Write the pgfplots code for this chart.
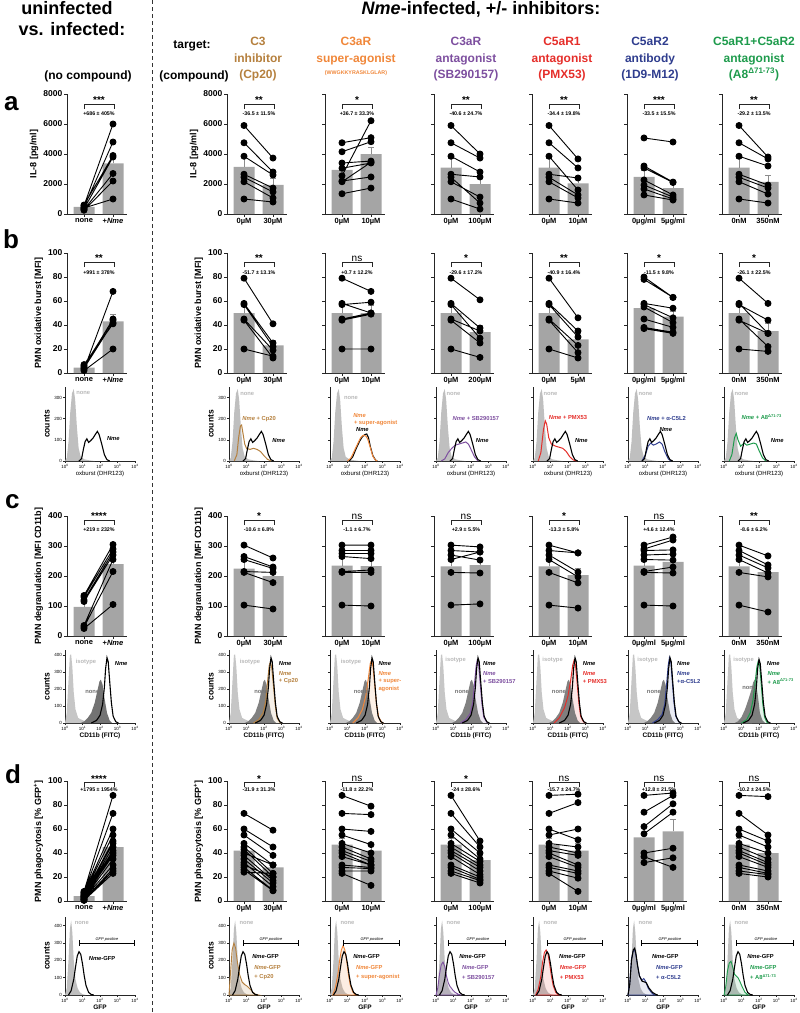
\documentclass[border=0pt]{standalone}
\usepackage{fontspec}
\setmainfont{Liberation Sans}
\usepackage{pgfplots}
\usepackage{pgfplotstable}
\pgfplotsset{compat=1.18}
\definecolor{cpc}{HTML}{B5803E}
\definecolor{spc}{HTML}{F0873A}
\definecolor{sbc}{HTML}{7D4F9F}
\definecolor{pmc}{HTML}{E52E2A}
\definecolor{csc}{HTML}{2F3D8E}
\definecolor{a8c}{HTML}{1E9B4C}
\definecolor{barg}{HTML}{A5A5A5}
\newcommand{\fs}[1]{\fontsize{#1}{#1}\selectfont}
\newcommand{\Nme}{\textit{Nme}}
\newcommand{\AEt}{A8\textsuperscript{Δ71-73}}
\newcommand{\brk}[5]{%
 \draw[line width=0.7pt, black!85] (rel axis cs:0.283,#2) -- (rel axis cs:0.283,#1) -- (rel axis cs:0.783,#1) -- (rel axis cs:0.783,#2);
 \node[anchor=south, inner sep=0pt, font=\bfseries\fs{10}] at (rel axis cs:0.533,#1) {#3};
 \node[inner sep=0pt, font=\bfseries\fs{5.3}] at (rel axis cs:0.533,#5) {#4};}
\newcommand{\brA}[2]{\brk{0.917}{0.875}{#1}{#2}{0.84}}
\newcommand{\brB}[2]{\brk{0.925}{0.883}{#1}{#2}{0.84}}
\newcommand{\brC}[2]{\brk{0.967}{0.925}{#1}{#2}{0.89}}
\newcommand{\brD}[2]{\brk{0.99}{0.95}{#1}{#2}{0.925}}
\newcommand{\ns}{{\mdseries ns}}
\newcommand{\hl}[4][]{\node[font=\bfseries\fs{5.8}, inner sep=0pt, #1] at (rel axis cs:#2,#3) {#4};}
\newcommand{\gfp}[1]{\draw[|-|, line width=0.6pt] (axis cs:#1,300) -- (axis cs:4,300); \node[font=\itshape\fs{4}, anchor=south, inner sep=1pt] at (axis cs:2.4,300) {GFP positive};}
% manual y ticks (no labels) for the inner panels
\newcommand{\tk}[1]{\draw[line width=0.8pt, black!85] (rel axis cs:0,#1) -- ++(-3pt,0pt);}
\newcommand{\htk}[1]{\draw[line width=0.6pt, black!85] (rel axis cs:0,#1) -- ++(-2pt,0pt);}
\newcommand{\tkFive}{\tk{0}\tk{0.25}\tk{0.5}\tk{0.75}\tk{1}}
\newcommand{\tkSix}{\tk{0}\tk{0.2}\tk{0.4}\tk{0.6}\tk{0.8}\tk{1}}
\newcommand{\tkHb}{\htk{0}\htk{0.2857}\htk{0.5714}\htk{0.8571}}
\newcommand{\tkHc}{\htk{0}\htk{0.2326}\htk{0.4651}\htk{0.6977}\htk{0.9302}}
\newcommand{\tkHd}{\htk{0}\htk{0.2222}\htk{0.4444}\htk{0.6667}\htk{0.8889}}

\pgfplotsset{
  base/.style={scale only axis, clip=false, anchor=south west, axis x line*=bottom, axis y line*=left,
    axis line style={line width=0.9pt, black!85, -},
    tick style={line width=0.8pt, black!85}, tick align=outside, major tick length=3pt,
    /pgf/number format/assume math mode=true, /pgf/number format/1000 sep={},
    ylabel style={font=\bfseries\fs{9}}},
  barax/.style={base, width=60pt, height=120pt, xmin=0, xmax=60, xtick={17,46},
    xticklabel style={font=\bfseries\fs{7.5}, inner sep=1pt}, yticklabel style={font=\bfseries\fs{8.5}, inner sep=1.5pt}},
  ra/.style={ymin=0, ymax=8000, ytick={0,2000,4000,6000,8000}},
  rb/.style={ymin=0, ymax=100, ytick={0,20,40,60,80,100}},
  rc/.style={ymin=0, ymax=400, ytick={0,100,200,300,400}},
  rd/.style={ymin=0, ymax=100, ytick={0,20,40,60,80,100}},
  histax/.style={base, width=70pt, xmin=0, xmax=4, ymin=0, xtick={0,1,2,3,4},
    xticklabels={10\textsuperscript{0},10\textsuperscript{1},10\textsuperscript{2},10\textsuperscript{3},10\textsuperscript{4}},
    tick label style={font=\fs{4.5}, inner sep=1pt}, major tick length=2pt,
    axis line style={line width=0.7pt}, tick style={line width=0.6pt}, ylabel style={font=\bfseries\fs{8.5}}},
  hb/.style={histax, height=74pt, ymax=350, ytick={0,100,200,300}, xlabel={oxburst (DHR123)}, xlabel style={font=\fs{6}, inner sep=1pt}},
  hc/.style={histax, height=73pt, ymax=430, ytick={0,100,200,300,400}, xlabel={CD11b (FITC)}, xlabel style={font=\bfseries\fs{6.5}, inner sep=1pt}},
  hd/.style={histax, height=78pt, ymax=450, ytick={0,100,200,300,400}, xlabel={GFP}, xlabel style={font=\bfseries\fs{6.5}, inner sep=1pt}},
  pts/.style={black, line width=0.9pt, mark=*, mark size=3pt, unbounded coords=jump},
  bars/.style={ybar, bar width=21, fill=barg, draw=none, error bars/.cd, y dir=plus, y explicit,
    error bar style={line width=0.7pt, black!45}, error mark options={rotate=90, mark size=3pt, line width=0.7pt, black!45}},
}

% ---------- histogram tables ----------
\pgfplotstableread{
x y
0 0
0.1 15
0.2 90
0.3 230
0.4 320
0.5 340
0.58 290
0.68 160
0.78 60
0.9 20
1.1 8
1.4 3
1.7 0
}\bNone
\pgfplotstableread{
x y
0.8 0
0.95 12
1.05 55
1.15 92
1.25 105
1.35 88
1.45 95
1.6 108
1.75 128
1.85 140
1.95 125
2.1 80
2.25 30
2.4 6
2.55 0
}\bNme
\pgfplotstableread{
x y
1.1 0
1.3 20
1.5 60
1.7 95
1.85 115
2.0 125
2.1 128
2.2 110
2.3 70
2.45 25
2.6 5
2.7 0
}\bNmeS
\pgfplotstableread{
x y
0 0
0.1 60
0.2 250
0.28 400
0.35 405
0.42 330
0.5 180
0.6 80
0.75 30
0.9 22
1.05 15
1.3 5
1.6 0
}\cIso
\pgfplotstableread{
x y
0.9 0
1.1 10
1.3 30
1.5 60
1.7 120
1.85 190
1.97 245
2.05 255
2.15 225
2.25 150
2.4 60
2.55 15
2.7 0
}\cNone
\pgfplotstableread{
x y
0.6 0
0.8 10
1.0 35
1.2 80
1.4 140
1.55 190
1.67 240
1.75 255
1.85 220
1.95 150
2.05 60
2.2 15
2.35 0
}\cNoneG
\pgfplotstableread{
x y
1.5 0
1.8 15
2.0 45
2.15 110
2.25 210
2.32 320
2.4 385
2.47 360
2.55 250
2.65 120
2.75 40
2.9 8
3.05 0
}\cNme
\pgfplotstableread{
x y
1.1 0
1.4 15
1.6 45
1.75 110
1.85 210
1.92 320
2.0 375
2.07 350
2.15 250
2.25 120
2.35 40
2.5 8
2.65 0
}\cNmeG
\pgfplotstableread{
x y
0 0
0.1 40
0.2 200
0.28 380
0.35 430
0.42 360
0.5 200
0.6 90
0.72 40
0.85 15
1.0 5
1.2 0
}\dNone
\pgfplotstableread{
x y
0.2 0
0.35 25
0.5 90
0.6 160
0.7 225
0.8 250
0.9 235
1.0 180
1.1 110
1.2 55
1.35 15
1.5 3
1.65 0
}\dNme
\pgfplotstableread{
x y
0 0
0.1 60
0.2 200
0.3 260
0.38 270
0.45 240
0.55 170
0.65 110
0.8 80
0.95 75
1.05 70
1.2 40
1.4 15
1.6 3
1.7 0
}\dNmeL

\begin{document}
\begin{tikzpicture}
\path[use as bounding box] (0pt,0pt) rectangle (800pt,-1013pt);
\draw[black!80, line width=0.8pt, dash pattern=on 4pt off 3pt] (152pt,0pt) -- (152pt,-1013pt);

% ---------- headers ----------
\node[font=\bfseries\fs{18}, anchor=base] at (67pt,-14pt) {uninfected};
\node[font=\bfseries\fs{18}, anchor=base] at (72pt,-35pt) {vs. infected:};
\node[font=\bfseries\fs{18}, anchor=base] at (481pt,-14pt) {\Nme-infected, +/- inhibitors:};
\node[font=\bfseries\fs{12}, anchor=base] at (192pt,-48pt) {target:};
\node[font=\bfseries\fs{12}, anchor=base] at (194pt,-79pt) {(compound)};
\node[font=\bfseries\fs{12}, anchor=base] at (88pt,-79pt) {(no compound)};
\begin{scope}[every node/.style={font=\bfseries\fs{12}, anchor=base}]
\node[cpc] at (258pt,-45pt) {C3}; \node[cpc] at (258pt,-62pt) {inhibitor}; \node[cpc] at (258pt,-78pt) {(Cp20)};
\node[spc] at (356pt,-45pt) {C3aR}; \node[spc] at (356pt,-62pt) {super-agonist}; \node[spc, font=\bfseries\fs{5.3}] at (356pt,-74pt) {(WWGKKYRASKLGLAR)};
\node[sbc] at (466pt,-45pt) {C3aR}; \node[sbc] at (466pt,-62pt) {antagonist}; \node[sbc] at (466pt,-78pt) {(SB290157)};
\node[pmc] at (562pt,-45pt) {C5aR1}; \node[pmc] at (562pt,-62pt) {antagonist}; \node[pmc] at (562pt,-78pt) {(PMX53)};
\node[csc] at (650pt,-45pt) {C5aR2}; \node[csc] at (650pt,-62pt) {antibody}; \node[csc] at (650pt,-78pt) {(1D9-M12)};
\node[a8c] at (754pt,-45pt) {C5aR1+C5aR2}; \node[a8c] at (754pt,-62pt) {antagonist}; \node[a8c] at (754pt,-78pt) {(\AEt)};
\end{scope}
\node[font=\bfseries\fs{26}, anchor=base west, inner sep=0pt] at (4pt,-110pt) {a};
\node[font=\bfseries\fs{26}, anchor=base west, inner sep=0pt] at (3pt,-248pt) {b};
\node[font=\bfseries\fs{26}, anchor=base west, inner sep=0pt] at (5pt,-508pt) {c};
\node[font=\bfseries\fs{26}, anchor=base west, inner sep=0pt] at (5pt,-783pt) {d};

% ================= ROW A =================
\begin{axis}[barax,ra,at={(67pt,-214pt)},xticklabels={none,+\Nme},ylabel={IL-8 [pg/ml]}]
\addplot[bars] coordinates {(17,480)+-(0,60) (46,3380)+-(0,620)};
\addplot[pts] coordinates {(17,550)(46,6000)(17,nan)(17,450)(46,4800)(17,nan)(17,600)(46,3900)(17,nan)(17,350)(46,3800)(17,nan)(17,300)(46,2700)(17,nan)(17,250)(46,2200)(17,nan)(17,400)(46,1000)};
\brA{***}{+686 ± 405\%}
\end{axis}
\begin{axis}[barax,ra,at={(227pt,-214pt)},xticklabels={0µM,30µM},ylabel={IL-8 [pg/ml]}]
\addplot[bars] coordinates {(17,3150)+-(0,600) (46,1950)+-(0,430)};
\addplot[pts] coordinates {(17,5900)(46,3730)(17,nan)(17,4750)(46,2800)(17,nan)(17,3850)(46,2600)(17,nan)(17,2650)(46,1730)(17,nan)(17,2450)(46,1470)(17,nan)(17,2150)(46,1070)(17,nan)(17,1000)(46,800)};
\brA{**}{-36.5 ± 11.5\%}
\end{axis}
\begin{axis}[barax,ra,ymajorticks=false,at={(325pt,-214pt)},xticklabels={0µM,10µM}]
\addplot[bars] coordinates {(17,2950)+-(0,450) (46,4000)+-(0,470)};
\addplot[pts] coordinates {(17,4750)(46,5090)(17,nan)(17,4150)(46,4820)(17,nan)(17,3400)(46,3530)(17,nan)(17,3050)(46,3400)(17,nan)(17,2550)(46,6220)(17,nan)(17,2200)(46,2470)(17,nan)(17,2150)(46,3450)(17,nan)(17,1350)(46,1730)};
\brA{*}{+36.7 ± 33.3\%}
\tkFive
\end{axis}
\begin{axis}[barax,ra,ymajorticks=false,at={(434pt,-214pt)},xticklabels={0µM,100µM}]
\addplot[bars] coordinates {(17,3100)+-(0,600) (46,2000)+-(0,470)};
\addplot[pts] coordinates {(17,5900)(46,4000)(17,nan)(17,4750)(46,3730)(17,nan)(17,3850)(46,2800)(17,nan)(17,2650)(46,2470)(17,nan)(17,2450)(46,730)(17,nan)(17,2150)(46,1130)(17,nan)(17,1000)(46,330)};
\brA{**}{-40.6 ± 24.7\%}
\tkFive
\end{axis}
\begin{axis}[barax,ra,ymajorticks=false,at={(532pt,-214pt)},xticklabels={0µM,10µM}]
\addplot[bars] coordinates {(17,3100)+-(0,600) (46,2050)+-(0,400)};
\addplot[pts] coordinates {(17,5900)(46,3670)(17,nan)(17,4750)(46,3070)(17,nan)(17,3850)(46,1600)(17,nan)(17,2650)(46,2400)(17,nan)(17,2450)(46,1270)(17,nan)(17,2150)(46,1070)(17,nan)(17,1000)(46,730)};
\brA{**}{-34.4 ± 19.8\%}
\tkFive
\end{axis}
\begin{axis}[barax,ra,ymajorticks=false,at={(627pt,-214pt)},xticklabels={0µg/ml,5µg/ml}]
\addplot[bars] coordinates {(17,2470)+-(0,460) (46,1730)+-(0,400)};
\addplot[pts] coordinates {(17,5070)(46,4800)(17,nan)(17,3200)(46,2130)(17,nan)(17,3070)(46,2100)(17,nan)(17,2270)(46,1270)(17,nan)(17,1930)(46,1130)(17,nan)(17,1670)(46,1000)(17,nan)(17,1270)(46,930)};
\brA{***}{-33.5 ± 15.5\%}
\tkFive
\end{axis}
\begin{axis}[barax,ra,ymajorticks=false,at={(722pt,-214pt)},xticklabels={0nM,350nM}]
\addplot[bars] coordinates {(17,3100)+-(0,600) (46,2150)+-(0,450)};
\addplot[pts] coordinates {(17,5900)(46,3800)(17,nan)(17,4750)(46,3670)(17,nan)(17,3850)(46,3200)(17,nan)(17,2650)(46,1930)(17,nan)(17,2450)(46,1730)(17,nan)(17,2150)(46,1330)(17,nan)(17,1000)(46,730)};
\brA{**}{-29.2 ± 13.5\%}
\tkFive
\end{axis}

% ================= ROW B =================
\begin{axis}[barax,rb,at={(67pt,-373pt)},xticklabels={none,+\Nme},ylabel={PMN oxidative burst [MFI]}]
\addplot[bars] coordinates {(17,4.5)+-(0,1) (46,43)+-(0,6)};
\addplot[pts] coordinates {(17,3)(46,68)(17,nan)(17,5)(46,45)(17,nan)(17,6)(46,44)(17,nan)(17,4)(46,42)(17,nan)(17,7)(46,41)(17,nan)(17,2)(46,20)};
\brB{**}{+991 ± 378\%}
\end{axis}
\begin{axis}[barax,rb,at={(227pt,-373pt)},xticklabels={0µM,30µM},ylabel={PMN oxidative burst [MFI]}]
\addplot[bars] coordinates {(17,50)+-(0,7) (46,23)+-(0,4)};
\addplot[pts] coordinates {(17,79)(46,41)(17,nan)(17,58)(46,25)(17,nan)(17,57)(46,22)(17,nan)(17,45)(46,19)(17,nan)(17,44)(46,12.5)(17,nan)(17,20)(46,14)};
\brB{**}{-51.7 ± 13.1\%}
\end{axis}
\begin{axis}[barax,rb,ymajorticks=false,at={(325pt,-373pt)},xticklabels={0µM,10µM}]
\addplot[bars] coordinates {(17,50)+-(0,7) (46,50)+-(0,6)};
\addplot[pts] coordinates {(17,79)(46,68)(17,nan)(17,58)(46,50)(17,nan)(17,57)(46,59)(17,nan)(17,45)(46,50)(17,nan)(17,44)(46,49)(17,nan)(17,20)(46,20)};
\brB{\ns}{+0.7 ± 12.2\%}
\tkSix
\end{axis}
\begin{axis}[barax,rb,ymajorticks=false,at={(434pt,-373pt)},xticklabels={0µM,200µM}]
\addplot[bars] coordinates {(17,50)+-(0,7) (46,34)+-(0,6)};
\addplot[pts] coordinates {(17,79)(46,61)(17,nan)(17,58)(46,37.5)(17,nan)(17,57)(46,29)(17,nan)(17,45)(46,35)(17,nan)(17,44)(46,25)(17,nan)(17,20)(46,13)};
\brB{*}{-29.6 ± 17.2\%}
\tkSix
\end{axis}
\begin{axis}[barax,rb,ymajorticks=false,at={(532pt,-373pt)},xticklabels={0µM,5µM}]
\addplot[bars] coordinates {(17,50)+-(0,7) (46,28)+-(0,5)};
\addplot[pts] coordinates {(17,79)(46,46)(17,nan)(17,58)(46,35)(17,nan)(17,57)(46,30)(17,nan)(17,45)(46,23)(17,nan)(17,44)(46,17)(17,nan)(17,20)(46,12.5)};
\brB{**}{-40.9 ± 16.4\%}
\tkSix
\end{axis}
\begin{axis}[barax,rb,ymajorticks=false,at={(627pt,-373pt)},xticklabels={0µg/ml,5µg/ml}]
\addplot[bars] coordinates {(17,54)+-(0,5) (46,47)+-(0,4)};
\addplot[pts] coordinates {(17,80)(46,63)(17,nan)(17,78)(46,63)(17,nan)(17,58)(46,54)(17,nan)(17,57)(46,46)(17,nan)(17,55)(46,42)(17,nan)(17,45)(46,38)(17,nan)(17,38)(46,34)(17,nan)(17,37)(46,33)};
\brB{*}{-11.5 ± 9.8\%}
\tkSix
\end{axis}
\begin{axis}[barax,rb,ymajorticks=false,at={(722pt,-373pt)},xticklabels={0nM,350nM}]
\addplot[bars] coordinates {(17,50)+-(0,7) (46,35)+-(0,6)};
\addplot[pts] coordinates {(17,79)(46,58)(17,nan)(17,58)(46,33)(17,nan)(17,57)(46,44)(17,nan)(17,45)(46,22)(17,nan)(17,44)(46,33)(17,nan)(17,20)(46,18)};
\brB{*}{-26.1 ± 22.5\%}
\tkSix
\end{axis}

% ---------- ROW B histograms ----------
\begin{axis}[hb,at={(65pt,-461pt)},ylabel={counts}]
\addplot[fill=gray!50, draw=none] table {\bNone} \closedcycle;
\addplot[black, line width=1.1pt] table {\bNme};
\hl[gray!55]{0.26}{0.92}{none} \hl{0.69}{0.3}{\Nme}
\end{axis}
\begin{axis}[hb,at={(229pt,-461pt)},ylabel={counts}]
\addplot[fill=gray!50, draw=none] table {\bNone} \closedcycle;
\addplot[cpc, line width=1pt] coordinates {(0.3,0)(0.45,30)(0.55,110)(0.65,165)(0.72,170)(0.8,130)(0.9,80)(1.0,60)(1.2,55)(1.4,60)(1.6,55)(1.8,45)(2.0,25)(2.2,8)(2.4,0)};
\addplot[black, line width=1.1pt] table {\bNme};
\hl[gray!55]{0.26}{0.9}{none} \hl[cpc]{0.43}{0.57}{\Nme\ + Cp20} \hl{0.71}{0.27}{\Nme}
\end{axis}
\begin{axis}[hb,ymajorticks=false,at={(330pt,-461pt)}]
\addplot[fill=gray!50, draw=none] table {\bNone} \closedcycle;
\addplot[black, line width=1.1pt] table {\bNmeS};
\addplot[spc, line width=1pt] coordinates {(1.0,0)(1.2,15)(1.4,50)(1.6,85)(1.75,110)(1.9,122)(2.05,118)(2.15,105)(2.3,65)(2.45,22)(2.6,4)(2.7,0)};
\hl[gray!55]{0.3}{0.85}{none} \hl[spc,anchor=west]{0.33}{0.62}{\Nme} \hl[spc,anchor=west]{0.34}{0.51}{+ super-agonist} \hl[anchor=west]{0.37}{0.42}{\Nme}
\tkHb
\end{axis}
\begin{axis}[hb,ymajorticks=false,at={(436pt,-461pt)}]
\addplot[fill=gray!50, draw=none] table {\bNone} \closedcycle;
\addplot[sbc, line width=1pt] coordinates {(0.3,0)(0.5,10)(0.7,40)(0.9,60)(1.1,75)(1.3,80)(1.5,85)(1.7,90)(1.85,80)(2.0,55)(2.2,20)(2.4,0)};
\addplot[black, line width=1.1pt] table {\bNme};
\hl[gray!55]{0.25}{0.9}{none} \hl[sbc]{0.57}{0.57}{\Nme\ + SB290157} \hl{0.66}{0.27}{\Nme}
\tkHb
\end{axis}
\begin{axis}[hb,ymajorticks=false,at={(533pt,-461pt)}]
\addplot[fill=gray!50, draw=none] table {\bNone} \closedcycle;
\addplot[pmc, line width=1pt] coordinates {(0.3,0)(0.45,40)(0.6,150)(0.7,190)(0.78,175)(0.9,110)(1.05,80)(1.3,70)(1.5,65)(1.7,60)(1.9,45)(2.1,20)(2.3,5)(2.5,0)};
\addplot[black, line width=1.1pt] table {\bNme};
\hl[gray!55]{0.25}{0.9}{none} \hl[pmc]{0.5}{0.59}{\Nme\ + PMX53} \hl{0.69}{0.27}{\Nme}
\tkHb
\end{axis}
\begin{axis}[hb,ymajorticks=false,at={(628pt,-461pt)}]
\addplot[fill=gray!50, draw=none] table {\bNone} \closedcycle;
\addplot[csc, line width=1pt] coordinates {(0.8,0)(1.0,30)(1.15,70)(1.3,85)(1.45,75)(1.6,80)(1.8,90)(1.95,80)(2.1,45)(2.3,10)(2.45,0)};
\addplot[black, line width=1.1pt] table {\bNme};
\hl[gray!55]{0.25}{0.9}{none} \hl[csc]{0.55}{0.57}{\Nme\ + α-C5L2} \hl{0.54}{0.43}{\Nme}
\tkHb
\end{axis}
\begin{axis}[hb,ymajorticks=false,at={(724pt,-461pt)}]
\addplot[fill=gray!50, draw=none] table {\bNone} \closedcycle;
\addplot[a8c, line width=1pt] coordinates {(0.3,0)(0.45,30)(0.6,110)(0.7,130)(0.8,100)(0.95,70)(1.15,85)(1.3,75)(1.5,80)(1.7,85)(1.85,80)(2.0,50)(2.2,15)(2.4,0)};
\addplot[black, line width=1.1pt] table {\bNme};
\hl[gray!55]{0.25}{0.9}{none} \hl[a8c]{0.54}{0.59}{\Nme\ + \AEt} \hl{0.76}{0.27}{\Nme}
\tkHb
\end{axis}

% ================= ROW C =================
\begin{axis}[barax,rc,at={(67pt,-636pt)},xticklabels={none,+\Nme},ylabel={PMN degranulation [MFI CD11b]}]
\addplot[bars] coordinates {(17,97)+-(0,20) (46,240)+-(0,25)};
\addplot[pts] coordinates {(17,135)(46,305)(17,nan)(17,130)(46,290)(17,nan)(17,120)(46,280)(17,nan)(17,115)(46,270)(17,nan)(17,35)(46,255)(17,nan)(17,30)(46,215)(17,nan)(17,25)(46,105)};
\brC{****}{+219 ± 232\%}
\end{axis}
\begin{axis}[barax,rc,at={(227pt,-636pt)},xticklabels={0µM,30µM},ylabel={PMN degranulation [MFI CD11b]}]
\addplot[bars] coordinates {(17,225)+-(0,25) (46,200)+-(0,13)};
\addplot[pts] coordinates {(17,303)(46,260)(17,nan)(17,265)(46,230)(17,nan)(17,255)(46,225)(17,nan)(17,215)(46,212)(17,nan)(17,212)(46,178)(17,nan)(17,103)(46,90)};
\brC{*}{-10.6 ± 6.8\%}
\end{axis}
\begin{axis}[barax,rc,ymajorticks=false,at={(325pt,-636pt)},xticklabels={0µM,10µM}]
\addplot[bars] coordinates {(17,235)+-(0,25) (46,233)+-(0,25)};
\addplot[pts] coordinates {(17,303)(46,303)(17,nan)(17,285)(46,285)(17,nan)(17,275)(46,275)(17,nan)(17,265)(46,258)(17,nan)(17,215)(46,220)(17,nan)(17,212)(46,212)(17,nan)(17,103)(46,100)};
\brC{\ns}{-1.1 ± 6.7\%}
\tkFive
\end{axis}
\begin{axis}[barax,rc,ymajorticks=false,at={(434pt,-636pt)},xticklabels={0µM,100µM}]
\addplot[bars] coordinates {(17,232)+-(0,25) (46,236)+-(0,22)};
\addplot[pts] coordinates {(17,303)(46,297)(17,nan)(17,285)(46,280)(17,nan)(17,270)(46,253)(17,nan)(17,255)(46,280)(17,nan)(17,212)(46,210)(17,nan)(17,103)(46,107)};
\brC{\ns}{+2.9 ± 5.5\%}
\tkFive
\end{axis}
\begin{axis}[barax,rc,ymajorticks=false,at={(532pt,-636pt)},xticklabels={0µM,10µM}]
\addplot[bars] coordinates {(17,232)+-(0,25) (46,203)+-(0,22)};
\addplot[pts] coordinates {(17,303)(46,277)(17,nan)(17,285)(46,277)(17,nan)(17,270)(46,213)(17,nan)(17,255)(46,197)(17,nan)(17,212)(46,177)(17,nan)(17,103)(46,93)};
\brC{*}{-13.3 ± 5.8\%}
\tkFive
\end{axis}
\begin{axis}[barax,rc,ymajorticks=false,at={(627pt,-636pt)},xticklabels={0µg/ml,5µg/ml}]
\addplot[bars] coordinates {(17,235)+-(0,25) (46,247)+-(0,26)};
\addplot[pts] coordinates {(17,303)(46,330)(17,nan)(17,290)(46,320)(17,nan)(17,285)(46,287)(17,nan)(17,270)(46,273)(17,nan)(17,255)(46,253)(17,nan)(17,215)(46,230)(17,nan)(17,212)(46,210)(17,nan)(17,103)(46,100)};
\brC{\ns}{+4.6 ± 12.4\%}
\tkFive
\end{axis}
\begin{axis}[barax,rc,ymajorticks=false,at={(722pt,-636pt)},xticklabels={0nM,350nM}]
\addplot[bars] coordinates {(17,232)+-(0,25) (46,213)+-(0,20)};
\addplot[pts] coordinates {(17,303)(46,267)(17,nan)(17,285)(46,237)(17,nan)(17,270)(46,227)(17,nan)(17,255)(46,210)(17,nan)(17,212)(46,197)(17,nan)(17,103)(46,80)};
\brC{**}{-8.6 ± 6.2\%}
\tkFive
\end{axis}

% ---------- ROW C histograms ----------
\begin{axis}[hc,at={(65pt,-723pt)},ylabel={counts}]
\addplot[fill=gray!45, draw=none] table {\cIso} \closedcycle;
\addplot[fill=black!55, draw=none] table {\cNone} \closedcycle;
\addplot[black, line width=1.1pt] table {\cNme};
\hl[gray!55]{0.3}{0.84}{isotype} \hl[black!55]{0.39}{0.42}{none} \hl[anchor=west]{0.71}{0.81}{\Nme}
\end{axis}
\begin{axis}[hc,at={(229pt,-723pt)},ylabel={counts}]
\addplot[fill=gray!45, draw=none] table {\cIso} \closedcycle;
\addplot[draw=none, fill=cpc!12] coordinates {(1.4,0)(1.7,20)(1.95,60)(2.1,130)(2.2,240)(2.3,340)(2.37,360)(2.45,320)(2.55,210)(2.65,100)(2.75,30)(2.9,5)(3.0,0)} \closedcycle;
\addplot[fill=black!55, fill opacity=0.9, draw=none] table {\cNone} \closedcycle;
\addplot[cpc, line width=1pt] coordinates {(1.4,0)(1.7,20)(1.95,60)(2.1,130)(2.2,240)(2.3,340)(2.37,360)(2.45,320)(2.55,210)(2.65,100)(2.75,30)(2.9,5)(3.0,0)};
\addplot[black, line width=1.1pt] table {\cNme};
\hl[gray!55]{0.3}{0.84}{isotype} \hl[black!55]{0.46}{0.42}{none} \hl[anchor=west]{0.71}{0.81}{\Nme}
\hl[cpc,anchor=west]{0.71}{0.68}{\Nme} \hl[cpc,anchor=west]{0.71}{0.57}{+ Cp20}
\end{axis}
\begin{axis}[hc,ymajorticks=false,at={(330pt,-723pt)}]
\addplot[fill=gray!45, draw=none] table {\cIso} \closedcycle;
\addplot[draw=none, fill=spc!12] coordinates {(1.3,0)(1.6,30)(1.85,80)(2.05,160)(2.2,270)(2.3,350)(2.38,370)(2.46,330)(2.56,220)(2.66,110)(2.78,35)(2.95,5)(3.05,0)} \closedcycle;
\addplot[fill=black!55, fill opacity=0.9, draw=none] table {\cNone} \closedcycle;
\addplot[spc, line width=1pt] coordinates {(1.3,0)(1.6,30)(1.85,80)(2.05,160)(2.2,270)(2.3,350)(2.38,370)(2.46,330)(2.56,220)(2.66,110)(2.78,35)(2.95,5)(3.05,0)};
\addplot[black, line width=1.1pt] table {\cNme};
\hl[gray!55]{0.3}{0.84}{isotype} \hl[black!55]{0.44}{0.42}{none} \hl[anchor=west]{0.69}{0.81}{\Nme}
\hl[spc,anchor=west]{0.69}{0.68}{\Nme} \hl[spc,anchor=west]{0.69}{0.57}{+ super-} \hl[spc,anchor=west]{0.69}{0.46}{agonist}
\tkHc
\end{axis}
\begin{axis}[hc,ymajorticks=false,at={(436pt,-723pt)}]
\addplot[fill=gray!45, draw=none] table {\cIso} \closedcycle;
\addplot[draw=none, fill=sbc!12] coordinates {(1.4,0)(1.7,20)(1.95,55)(2.1,120)(2.2,230)(2.3,340)(2.36,370)(2.44,340)(2.53,230)(2.63,110)(2.73,35)(2.9,5)(3.0,0)} \closedcycle;
\addplot[fill=black!55, fill opacity=0.9, draw=none] table {\cNone} \closedcycle;
\addplot[sbc, line width=1pt] coordinates {(1.4,0)(1.7,20)(1.95,55)(2.1,120)(2.2,230)(2.3,340)(2.36,370)(2.44,340)(2.53,230)(2.63,110)(2.73,35)(2.9,5)(3.0,0)};
\addplot[black, line width=1.1pt] table {\cNme};
\hl[gray!55]{0.28}{0.86}{isotype} \hl[black!55]{0.37}{0.42}{none} \hl[anchor=west]{0.67}{0.81}{\Nme}
\hl[sbc,anchor=west]{0.67}{0.68}{\Nme} \hl[sbc,anchor=west]{0.67}{0.57}{+ SB290157}
\tkHc
\end{axis}
\begin{axis}[hc,ymajorticks=false,at={(533pt,-723pt)}]
\addplot[fill=gray!45, draw=none] table {\cIso} \closedcycle;
\addplot[draw=none, fill=pmc!12] coordinates {(1.2,0)(1.5,30)(1.8,90)(2.0,160)(2.15,250)(2.27,340)(2.35,370)(2.43,340)(2.52,240)(2.62,120)(2.72,40)(2.88,8)(3.0,0)} \closedcycle;
\addplot[fill=black!55, fill opacity=0.9, draw=none] table {\cNone} \closedcycle;
\addplot[pmc, line width=1pt] coordinates {(1.2,0)(1.5,30)(1.8,90)(2.0,160)(2.15,250)(2.27,340)(2.35,370)(2.43,340)(2.52,240)(2.62,120)(2.72,40)(2.88,8)(3.0,0)};
\addplot[black, line width=1.1pt] table {\cNme};
\hl[gray!55]{0.28}{0.86}{isotype} \hl[black!55]{0.37}{0.42}{none} \hl[anchor=west]{0.71}{0.81}{\Nme}
\hl[pmc,anchor=west]{0.71}{0.68}{\Nme} \hl[pmc,anchor=west]{0.71}{0.57}{+ PMX53}
\tkHc
\end{axis}
\begin{axis}[hc,ymajorticks=false,at={(628pt,-723pt)}]
\addplot[fill=gray!45, draw=none] table {\cIso} \closedcycle;
\addplot[draw=none, fill=csc!10] coordinates {(1.4,0)(1.7,20)(1.95,50)(2.1,110)(2.2,220)(2.3,340)(2.37,385)(2.45,360)(2.53,250)(2.63,120)(2.73,40)(2.9,8)(3.0,0)} \closedcycle;
\addplot[fill=black!55, fill opacity=0.9, draw=none] table {\cNone} \closedcycle;
\addplot[csc, line width=1pt] coordinates {(1.4,0)(1.7,20)(1.95,50)(2.1,110)(2.2,220)(2.3,340)(2.37,385)(2.45,360)(2.53,250)(2.63,120)(2.73,40)(2.9,8)(3.0,0)};
\addplot[black, line width=1.1pt] table {\cNme};
\hl[gray!55]{0.28}{0.86}{isotype} \hl[black!55]{0.37}{0.42}{none} \hl[anchor=west]{0.7}{0.81}{\Nme}
\hl[csc,anchor=west]{0.7}{0.68}{\Nme} \hl[csc,anchor=west]{0.7}{0.57}{+α-C5L2}
\tkHc
\end{axis}
\begin{axis}[hc,ymajorticks=false,at={(724pt,-723pt)}]
\addplot[fill=gray!45, draw=none] table {\cIso} \closedcycle;
\addplot[draw=none, fill=a8c!12] coordinates {(1.0,0)(1.3,20)(1.5,60)(1.65,130)(1.78,240)(1.88,330)(1.96,365)(2.04,340)(2.12,240)(2.22,110)(2.32,35)(2.45,5)(2.55,0)} \closedcycle;
\addplot[fill=black!55, fill opacity=0.9, draw=none] table {\cNoneG} \closedcycle;
\addplot[a8c, line width=1pt] coordinates {(1.0,0)(1.3,20)(1.5,60)(1.65,130)(1.78,240)(1.88,330)(1.96,365)(2.04,340)(2.12,240)(2.22,110)(2.32,35)(2.45,5)(2.55,0)};
\addplot[black, line width=1.1pt] table {\cNmeG};
\hl[gray!55]{0.28}{0.86}{isotype} \hl[black!55]{0.36}{0.48}{none} \hl[anchor=west]{0.61}{0.81}{\Nme}
\hl[a8c,anchor=west]{0.62}{0.68}{\Nme} \hl[a8c,anchor=west]{0.62}{0.57}{+ \AEt}
\tkHc
\end{axis}

% ================= ROW D =================
\begin{axis}[barax,rd,at={(67pt,-901pt)},xticklabels={none,+\Nme},ylabel={PMN phagocytosis [\% GFP\textsuperscript{+}]}]
\addplot[bars] coordinates {(17,4)+-(0,1) (46,45)+-(0,5)};
\addplot[pts] coordinates {(17,8)(46,88)(17,nan)(17,7)(46,73)(17,nan)(17,7)(46,60)(17,nan)(17,6)(46,55)(17,nan)(17,5)(46,50)(17,nan)(17,5)(46,48)(17,nan)(17,4)(46,45)(17,nan)(17,4)(46,42)(17,nan)(17,3)(46,40)(17,nan)(17,3)(46,38)(17,nan)(17,2)(46,35)(17,nan)(17,2)(46,30)(17,nan)(17,1)(46,27)(17,nan)(17,1)(46,25)(17,nan)(17,0.5)(46,23)};
\brD{****}{+1795 ± 1954\%}
\end{axis}
\begin{axis}[barax,rd,at={(227pt,-901pt)},xticklabels={0µM,30µM},ylabel={PMN phagocytosis [\% GFP\textsuperscript{+}]}]
\addplot[bars] coordinates {(17,42)+-(0,4) (46,28)+-(0,4)};
\addplot[pts] coordinates {(17,73)(46,59)(17,nan)(17,60)(46,45)(17,nan)(17,55)(46,38)(17,nan)(17,48)(46,30)(17,nan)(17,45)(46,23)(17,nan)(17,43)(46,20)(17,nan)(17,40)(46,30)(17,nan)(17,38)(46,17)(17,nan)(17,35)(46,15)(17,nan)(17,32)(46,12)(17,nan)(17,30)(46,20)(17,nan)(17,28)(46,9)(17,nan)(17,26)(46,8.5)(17,nan)(17,24)(46,23)};
\brD{*}{-31.9 ± 31.3\%}
\end{axis}
\begin{axis}[barax,rd,ymajorticks=false,at={(325pt,-901pt)},xticklabels={0µM,10µM}]
\addplot[bars] coordinates {(17,47)+-(0,5) (46,42)+-(0,5)};
\addplot[pts] coordinates {(17,88)(46,79)(17,nan)(17,73)(46,72)(17,nan)(17,60)(46,58)(17,nan)(17,55)(46,47)(17,nan)(17,48)(46,40)(17,nan)(17,45)(46,35)(17,nan)(17,42)(46,33)(17,nan)(17,40)(46,30)(17,nan)(17,37)(46,30)(17,nan)(17,30)(46,28)(17,nan)(17,28)(46,27)(17,nan)(17,25)(46,25)(17,nan)(17,23)(46,13)};
\brD{\ns}{-11.8 ± 22.2\%}
\tkSix
\end{axis}
\begin{axis}[barax,rd,ymajorticks=false,at={(434pt,-901pt)},xticklabels={0µM,100µM}]
\addplot[bars] coordinates {(17,47)+-(0,5) (46,34)+-(0,4)};
\addplot[pts] coordinates {(17,88)(46,50)(17,nan)(17,73)(46,45)(17,nan)(17,60)(46,40)(17,nan)(17,55)(46,35)(17,nan)(17,48)(46,33)(17,nan)(17,45)(46,30)(17,nan)(17,42)(46,28)(17,nan)(17,40)(46,25)(17,nan)(17,37)(46,22)(17,nan)(17,30)(46,20)(17,nan)(17,28)(46,18)(17,nan)(17,25)(46,17)(17,nan)(17,23)(46,15)};
\brD{*}{-24 ± 28.6\%}
\tkSix
\end{axis}
\begin{axis}[barax,rd,ymajorticks=false,at={(532pt,-901pt)},xticklabels={0µM,10µM}]
\addplot[bars] coordinates {(17,47)+-(0,5) (46,42)+-(0,6)};
\addplot[pts] coordinates {(17,88)(46,89)(17,nan)(17,73)(46,82)(17,nan)(17,60)(46,51)(17,nan)(17,55)(46,60)(17,nan)(17,48)(46,45)(17,nan)(17,45)(46,40)(17,nan)(17,42)(46,38)(17,nan)(17,40)(46,30)(17,nan)(17,37)(46,28)(17,nan)(17,30)(46,25)(17,nan)(17,28)(46,23)(17,nan)(17,25)(46,19)(17,nan)(17,23)(46,8)};
\brD{\ns}{-15.7 ± 24.7\%}
\tkSix
\end{axis}
\begin{axis}[barax,rd,ymajorticks=false,at={(627pt,-901pt)},xticklabels={0µg/ml,5µg/ml}]
\addplot[bars] coordinates {(17,53)+-(0,8) (46,58)+-(0,10)};
\addplot[pts] coordinates {(17,88)(46,90)(17,nan)(17,74)(46,88)(17,nan)(17,62)(46,81)(17,nan)(17,56)(46,74)(17,nan)(17,40)(46,44)(17,nan)(17,37)(46,28)(17,nan)(17,32)(46,36)};
\brD{\ns}{+12.8 ± 21.5\%}
\tkSix
\end{axis}
\begin{axis}[barax,rd,ymajorticks=false,at={(722pt,-901pt)},xticklabels={0nM,350nM}]
\addplot[bars] coordinates {(17,47)+-(0,5) (46,40)+-(0,5)};
\addplot[pts] coordinates {(17,88)(46,87)(17,nan)(17,73)(46,55)(17,nan)(17,60)(46,50)(17,nan)(17,55)(46,45)(17,nan)(17,48)(46,40)(17,nan)(17,45)(46,35)(17,nan)(17,42)(46,32)(17,nan)(17,40)(46,30)(17,nan)(17,37)(46,28)(17,nan)(17,30)(46,25)(17,nan)(17,28)(46,23)(17,nan)(17,25)(46,22)(17,nan)(17,23)(46,20)};
\brD{\ns}{-10.2 ± 24.5\%}
\tkSix
\end{axis}

% ---------- ROW D histograms ----------
\begin{axis}[hd,at={(65pt,-995pt)},ylabel={counts}]
\addplot[fill=gray!50, draw=none] table {\dNone} \closedcycle;
\addplot[black, line width=1.1pt] table {\dNme};
\gfp{0.8}
\hl[gray!55]{0.24}{0.92}{none} \hl{0.53}{0.47}{\Nme-GFP}
\end{axis}
\begin{axis}[hd,at={(229pt,-995pt)},ylabel={counts}]
\addplot[fill=gray!50, draw=none] table {\dNone} \closedcycle;
\addplot[cpc, line width=0.9pt, fill=cpc, fill opacity=0.15] coordinates {(0,0)(0.08,120)(0.18,260)(0.28,300)(0.38,270)(0.48,190)(0.6,120)(0.75,75)(0.9,60)(1.05,50)(1.2,35)(1.35,18)(1.5,5)(1.7,0)} \closedcycle;
\addplot[black, line width=1.1pt] table {\dNme};
\gfp{0.8}
\hl[gray!55]{0.25}{0.92}{none} \hl[anchor=west]{0.33}{0.49}{\Nme-GFP}
\hl[cpc,anchor=west]{0.36}{0.35}{\Nme-GFP} \hl[cpc,anchor=west]{0.36}{0.23}{+ Cp20}
\end{axis}
\begin{axis}[hd,ymajorticks=false,at={(330pt,-995pt)}]
\addplot[fill=gray!50, draw=none] table {\dNone} \closedcycle;
\addplot[spc, line width=0.9pt, fill=spc, fill opacity=0.15] coordinates {(0.15,0)(0.3,40)(0.45,120)(0.55,200)(0.65,260)(0.75,285)(0.85,260)(0.95,200)(1.05,120)(1.15,60)(1.3,18)(1.45,3)(1.6,0)} \closedcycle;
\addplot[black, line width=1.1pt] table {\dNme};
\gfp{0.74}
\hl[gray!55]{0.25}{0.92}{none} \hl[anchor=west]{0.33}{0.49}{\Nme-GFP}
\hl[spc,anchor=west]{0.37}{0.35}{\Nme-GFP} \hl[spc,anchor=west]{0.37}{0.23}{+ super-agonist}
\tkHd
\end{axis}
\begin{axis}[hd,ymajorticks=false,at={(436pt,-995pt)}]
\addplot[fill=gray!50, draw=none] table {\dNone} \closedcycle;
\addplot[sbc, line width=0.9pt, fill=sbc, fill opacity=0.12] coordinates {(0,0)(0.1,40)(0.2,120)(0.3,175)(0.4,190)(0.5,165)(0.6,110)(0.7,70)(0.8,50)(0.95,30)(1.1,15)(1.3,3)(1.45,0)} \closedcycle;
\addplot[black, line width=1.1pt] table {\dNme};
\gfp{0.69}
\hl[gray!55]{0.25}{0.92}{none} \hl[anchor=west]{0.33}{0.49}{\Nme-GFP}
\hl[sbc,anchor=west]{0.37}{0.35}{\Nme-GFP} \hl[sbc,anchor=west]{0.37}{0.23}{+ SB290157}
\tkHd
\end{axis}
\begin{axis}[hd,ymajorticks=false,at={(533pt,-995pt)}]
\addplot[fill=gray!50, draw=none] table {\dNone} \closedcycle;
\addplot[pmc, line width=0.9pt, fill=pmc, fill opacity=0.12] coordinates {(0.15,0)(0.3,35)(0.45,110)(0.55,190)(0.65,245)(0.75,260)(0.85,240)(0.95,180)(1.05,110)(1.15,55)(1.3,15)(1.45,3)(1.6,0)} \closedcycle;
\addplot[black, line width=1.1pt] table {\dNme};
\gfp{0.8}
\hl[gray!55]{0.25}{0.92}{none} \hl[anchor=west]{0.37}{0.49}{\Nme-GFP}
\hl[pmc,anchor=west]{0.38}{0.35}{\Nme-GFP} \hl[pmc,anchor=west]{0.38}{0.23}{+ PMX53}
\tkHd
\end{axis}
\begin{axis}[hd,ymajorticks=false,at={(628pt,-995pt)}]
\addplot[fill=gray!50, draw=none] table {\dNone} \closedcycle;
\addplot[csc, line width=0.9pt, fill=csc, fill opacity=0.1] coordinates {(0,0)(0.1,70)(0.2,210)(0.3,255)(0.38,260)(0.46,225)(0.56,160)(0.66,110)(0.8,85)(0.9,95)(1.0,80)(1.15,40)(1.35,12)(1.55,0)} \closedcycle;
\addplot[black, line width=1.1pt] table {\dNmeL};
\gfp{0.74}
\hl[gray!55]{0.25}{0.92}{none} \hl[anchor=west]{0.34}{0.49}{\Nme-GFP}
\hl[csc,anchor=west]{0.4}{0.35}{\Nme-GFP} \hl[csc,anchor=west]{0.4}{0.23}{+ α-C5L2}
\tkHd
\end{axis}
\begin{axis}[hd,ymajorticks=false,at={(724pt,-995pt)}]
\addplot[fill=gray!50, draw=none] table {\dNone} \closedcycle;
\addplot[a8c, line width=0.9pt, fill=a8c, fill opacity=0.12] coordinates {(0,0)(0.1,50)(0.2,140)(0.3,185)(0.4,195)(0.5,160)(0.6,120)(0.7,110)(0.8,100)(0.9,80)(1.05,45)(1.2,15)(1.4,0)} \closedcycle;
\addplot[black, line width=1.1pt] table {\dNme};
\gfp{0.69}
\hl[gray!55]{0.25}{0.92}{none} \hl[anchor=west]{0.33}{0.49}{\Nme-GFP}
\hl[a8c,anchor=west]{0.37}{0.35}{\Nme-GFP} \hl[a8c,anchor=west]{0.37}{0.23}{+ \AEt}
\tkHd
\end{axis}
\end{tikzpicture}
\end{document}
